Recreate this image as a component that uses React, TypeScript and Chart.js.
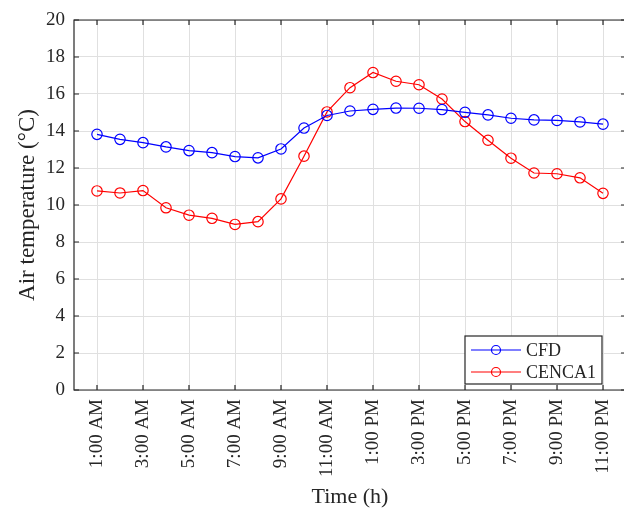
import React, { useEffect, useRef } from "react";
import { Chart, registerables } from "chart.js";

Chart.register(...registerables);

const hours = [1, 2, 3, 4, 5, 6, 7, 8, 9, 10, 11, 12, 13, 14, 15, 16, 17, 18, 19, 20, 21, 22, 23];
const cfdValues = [13.82, 13.55, 13.37, 13.14, 12.94, 12.83, 12.62, 12.55, 13.03, 14.16, 14.84, 15.08, 15.17, 15.24, 15.23, 15.16, 15.01, 14.87, 14.69, 14.6, 14.57, 14.49, 14.37];
const cencaValues = [10.76, 10.65, 10.78, 9.85, 9.45, 9.28, 8.95, 9.1, 10.33, 12.64, 15.03, 16.34, 17.16, 16.69, 16.5, 15.73, 14.51, 13.5, 12.53, 11.73, 11.69, 11.47, 10.63];
const tickHours = [1, 3, 5, 7, 9, 11, 13, 15, 17, 19, 21, 23];
const tickLabels = ["1:00 AM", "3:00 AM", "5:00 AM", "7:00 AM", "9:00 AM", "11:00 AM", "1:00 PM", "3:00 PM", "5:00 PM", "7:00 PM", "9:00 PM", "11:00 PM"];
const seriesNames = ["CFD", "CENCA1"];
const seriesColors = ["#0000ff", "#ff0000"];

const FONT = "'Liberation Serif', 'Times New Roman', serif";
const AXIS_COLOR = "#262626";

const framePlugin = {
  id: "frame",
  afterDraw(chart: any) {
    const { ctx, chartArea } = chart;
    const { left, right, top, bottom } = chartArea;
    const xs = chart.scales.x;
    const ys = chart.scales.y;
    ctx.save();
    ctx.strokeStyle = AXIS_COLOR;
    ctx.lineWidth = 1.2;
    ctx.beginPath();
    ctx.rect(left, top, right - left, bottom - top);
    ctx.stroke();
    const tl = 5;
    ctx.beginPath();
    xs.ticks.forEach((t: any) => {
      const px = xs.getPixelForValue(t.value);
      ctx.moveTo(px, bottom);
      ctx.lineTo(px, bottom - tl);
      ctx.moveTo(px, top);
      ctx.lineTo(px, top + tl);
    });
    ys.ticks.forEach((t: any) => {
      const py = ys.getPixelForValue(t.value);
      ctx.moveTo(left, py);
      ctx.lineTo(left + tl, py);
      ctx.moveTo(right, py);
      ctx.lineTo(right - tl, py);
    });
    ctx.stroke();

    // legend
    ctx.font = `18px ${FONT}`;
    const datasets = chart.data.datasets;
    let maxW = 0;
    datasets.forEach((d: any) => {
      maxW = Math.max(maxW, ctx.measureText(d.label).width);
    });
    const lineLen = 50;
    const pad = 6;
    const boxW = pad + lineLen + 5 + maxW + pad;
    const boxH = 48;
    const bx = right - 24 - boxW;
    const by = bottom - 6 - boxH;
    ctx.fillStyle = "#ffffff";
    ctx.fillRect(bx, by, boxW, boxH);
    ctx.strokeStyle = AXIS_COLOR;
    ctx.lineWidth = 1.2;
    ctx.strokeRect(bx, by, boxW, boxH);
    datasets.forEach((d: any, i: number) => {
      const cy = by + 14 + i * 22;
      const lx = bx + pad;
      ctx.strokeStyle = d.borderColor;
      ctx.lineWidth = 1.2;
      ctx.beginPath();
      ctx.moveTo(lx, cy);
      ctx.lineTo(lx + lineLen, cy);
      ctx.stroke();
      ctx.beginPath();
      ctx.arc(lx + lineLen / 2, cy, 4.5, 0, Math.PI * 2);
      ctx.stroke();
      ctx.fillStyle = AXIS_COLOR;
      ctx.textAlign = "left";
      ctx.textBaseline = "middle";
      ctx.fillText(d.label, lx + lineLen + 5, cy + 1);
    });
    ctx.restore();
  },
};

export default function App() {
  const ref = useRef<HTMLCanvasElement | null>(null);
  useEffect(() => {
    if (!ref.current) return;
    const makeSeries = (vals: number[]) => hours.map((h, i) => ({ x: h, y: vals[i] }));
    const chart = new Chart(ref.current, {
      type: "line",
      data: {
        datasets: [cfdValues, cencaValues].map((vals, i) => ({
          label: seriesNames[i],
          data: makeSeries(vals),
          borderColor: seriesColors[i],
          backgroundColor: "rgba(0,0,0,0)",
          borderWidth: 1.2,
          pointRadius: 5.2,
          pointBorderWidth: 1.2,
          pointBackgroundColor: "rgba(0,0,0,0)",
          pointBorderColor: seriesColors[i],
          tension: 0,
          fill: false,
        })),
      },
      plugins: [framePlugin],
      options: {
        animation: false,
        responsive: false,
        events: [],
        layout: { padding: { left: 0, right: 14, top: 20, bottom: 0 } },
        plugins: { legend: { display: false }, tooltip: { enabled: false } },
        scales: {
          x: {
            type: "linear",
            min: 0,
            max: 24,
            afterBuildTicks: (scale: any) => {
              scale.ticks = tickHours.map((v) => ({ value: v }));
            },
            afterFit: (scale: any) => {
              scale.height = 120;
              scale.paddingLeft = 0;
              scale.paddingRight = 0;
            },
            grid: { color: "#e0e0e0", lineWidth: 1, drawTicks: false },
            border: { display: false },
            ticks: {
              autoSkip: false,
              maxRotation: 90,
              minRotation: 90,
              padding: 9,
              color: AXIS_COLOR,
              font: { family: FONT, size: 19 },
              callback: (v: any) => {
                const idx = tickHours.indexOf(Number(v));
                return idx >= 0 ? tickLabels[idx] : "";
              },
            },
            title: {
              display: true,
              text: "Time (h)",
              color: AXIS_COLOR,
              font: { family: FONT, size: 22 },
              padding: { top: 0, bottom: 0 },
            },
          },
          y: {
            min: 0,
            max: 20,
            afterFit: (scale: any) => {
              scale.width = 74;
              scale.paddingTop = 0;
              scale.paddingBottom = 0;
            },
            grid: { color: "#e0e0e0", lineWidth: 1, drawTicks: false },
            border: { display: false },
            ticks: {
              stepSize: 2,
              padding: 9,
              color: AXIS_COLOR,
              font: { family: FONT, size: 19 },
            },
            title: {
              display: true,
              text: "Air temperature (°C)",
              color: AXIS_COLOR,
              font: { family: FONT, size: 23 },
              padding: { top: 14, bottom: 0 },
            },
          },
        },
      },
    } as any);
    return () => chart.destroy();
  }, []);
  return (
    <div style={{ position: "fixed", left: 0, top: 0, width: 624, height: 510, overflow: "hidden", background: "#fff" }}>
      <canvas ref={ref} width={640} height={510} style={{ display: "block", width: 640, height: 510 }} />
    </div>
  );
}
